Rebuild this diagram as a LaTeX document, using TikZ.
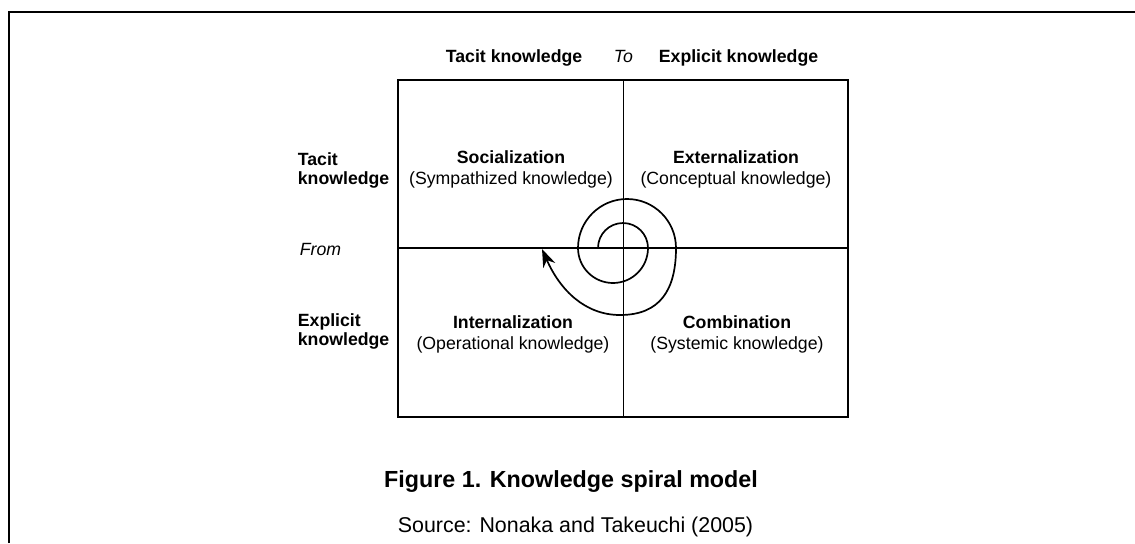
\documentclass[tikz,border=0pt]{standalone}
\usepackage{fontspec}
\setmainfont{Liberation Sans}
\usetikzlibrary{arrows.meta}

\begin{document}
\begin{tikzpicture}[x=0.5pt, y=0.5pt, line width=0.85pt,
  head/.style={anchor=base west, inner sep=0pt, font=\fontsize{8.85}{10.6}\selectfont\bfseries},
  side/.style={anchor=west, align=left, inner sep=0pt, font=\fontsize{8.85}{9.5}\selectfont\bfseries},
  cell/.style={align=center, inner sep=0pt, font=\fontsize{8.85}{10.5}\selectfont}]
\useasboundingbox (0,0) rectangle (1135,543);
% page frame
\draw[line width=1.2pt] (9,0) -- (9,531) -- (1135,531);
% matrix
\draw (398,126) rectangle (848,463);
\draw (623.5,126) -- (623.5,463);
\draw (398,295) -- (848,295);
% headings
\node[head] (tacitto) at (445,481) {Tacit knowledge};
\node[head, font=\fontsize{8.85}{10.6}\selectfont\itshape] (to) at (613,481) {To};
\node[head] (explicitto) at (658,481) {Explicit knowledge};
\node[side] (tacitfrom) at (297,373) {Tacit\\knowledge};
\node[anchor=base west, inner sep=0pt, font=\fontsize{8.85}{10.6}\selectfont\itshape] (from) at (299,288) {From};
\node[side] (explicitfrom) at (297,211.5) {Explicit\\knowledge};
% quadrants
\node[cell] (soc) at (511,374) {\textbf{Socialization}\\(Sympathized knowledge)};
\node[cell] (ext) at (736,374) {\textbf{Externalization}\\(Conceptual knowledge)};
\node[cell] (int) at (513,208.5) {\textbf{Internalization}\\(Operational knowledge)};
\node[cell] (com) at (737,208.5) {\textbf{Combination}\\(Systemic knowledge)};
% spiral
\draw[line cap=round, -{Stealth[length=9pt, width=6.5pt]}] (598,295)
  arc [start angle=180, end angle=0, radius=25]
  arc [start angle=0, end angle=-180, radius=35]
  arc [start angle=180, end angle=0, radius=49]
  .. controls (676,253) and (660,228) .. (620,228)
  .. controls (585,228) and (560,253) .. (542,294);
% caption
\node[anchor=base, inner sep=0pt, font=\fontsize{11.65}{14}\selectfont\bfseries] (caption) at (571,56) {Figure 1. Knowledge spiral model};
\node[anchor=base, inner sep=0pt, font=\fontsize{10.7}{13}\selectfont] (source) at (575.5,11) {Source: Nonaka and Takeuchi (2005)};
\end{tikzpicture}
\end{document}
